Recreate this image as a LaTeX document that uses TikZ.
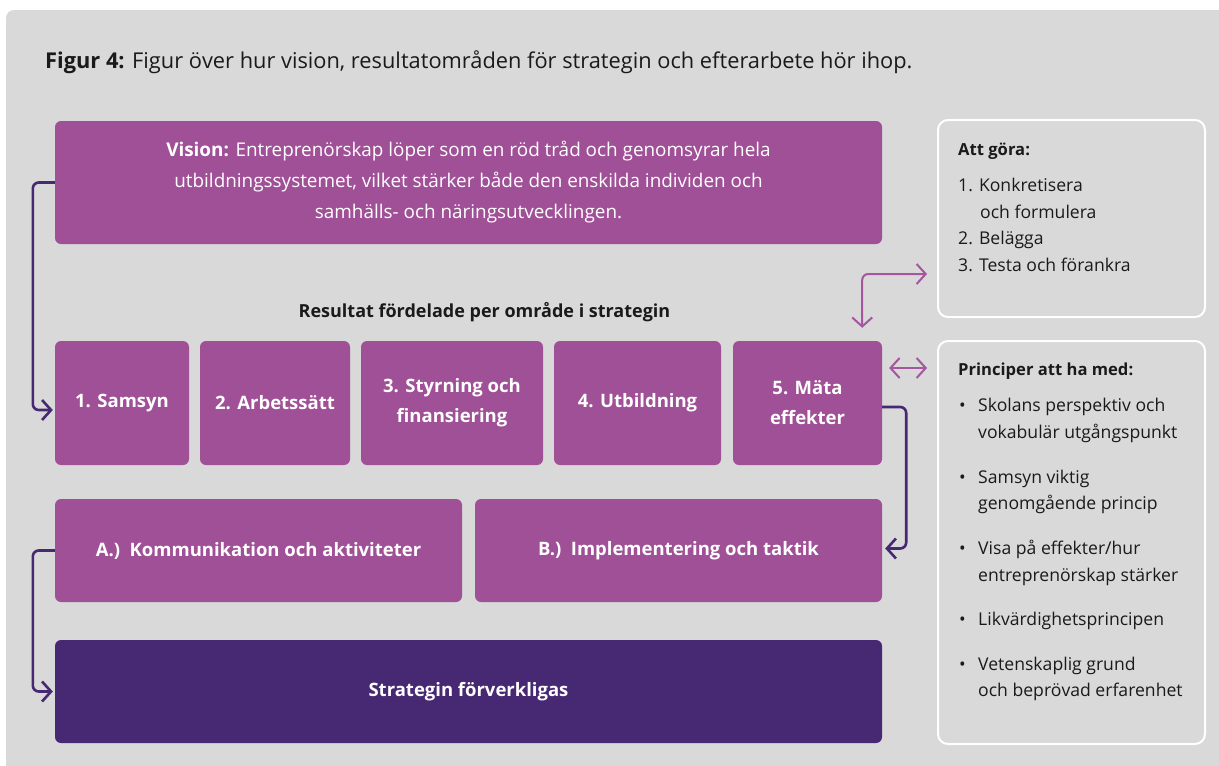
\documentclass[tikz,border=0pt]{standalone}
\usepackage{fontspec}
\setmainfont{Open Sans}
\usetikzlibrary{arrows.meta,calc}
\definecolor{bg}{HTML}{D9D9D9}
\definecolor{mauve}{HTML}{A05096}
\definecolor{deep}{HTML}{472873}
\definecolor{lilac}{HTML}{A4569E}
\definecolor{ink}{HTML}{1A1A1A}
\begin{document}
\begin{tikzpicture}[x=1pt,y=-1pt,
  box/.style={fill=mauve, rounded corners=6pt, text=white, inner sep=0pt, align=center,
    font=\fontsize{18.5}{30}\selectfont\bfseries},
  darkbox/.style={box, fill=deep},
  panel/.style={draw=white, line width=2pt, fill=bg, rounded corners=10pt, inner sep=0pt},
  txt/.style={anchor=base west, inner sep=0pt, text=ink, font=\fontsize{17.6}{20}\selectfont},
  txth/.style={txt, font=\fontsize{16.6}{20}\selectfont\bfseries},
  dconn/.style={draw=deep, line width=2.6pt, rounded corners=6pt, -{Straight Barb[length=9pt,width=20pt]}},
  lconn/.style={draw=lilac, line width=2pt, rounded corners=6pt,
    {Straight Barb[length=9pt,width=20pt]}-{Straight Barb[length=9pt,width=20pt]}}]
\useasboundingbox (0,0) rectangle (1219,766);
\begin{scope}
\clip (0,0) rectangle (1219,766);
\fill[white] (0,0) rectangle (1219,766);
\fill[bg, rounded corners=8pt] (6,10) rectangle (1240,790);
\end{scope}

% title
\node[anchor=base west, inner sep=0pt, text=ink, font=\fontsize{21.8}{24}\selectfont] (title) at (45,68)
  {\textbf{Figur 4:} Figur över hur vision, resultatområden för strategin och efterarbete hör ihop.};

% vision
\node[box, minimum width=827pt, minimum height=123pt, font=\fontsize{18.9}{31}\selectfont] (vision) at (468.5,182.5)
  {\textbf{Vision:} Entreprenörskap löper som en röd tråd och genomsyrar hela\\
   utbildningssystemet, vilket stärker både den enskilda individen och\\
   samhälls- och näringsutvecklingen.};

\node[anchor=center, inner sep=0pt, text=ink, font=\fontsize{18}{20}\selectfont\bfseries] (heading) at (484.5,312)
  {Resultat fördelade per område i strategin};

% row of areas
\node[box, minimum width=134pt, minimum height=124pt] (b1) at (122,403) {1. Samsyn};
\node[box, minimum width=150pt, minimum height=124pt] (b2) at (275,403) {2. Arbetssätt};
\node[box, minimum width=182pt, minimum height=124pt] (b3) at (452,403) {3. Styrning och\\finansiering};
\node[box, minimum width=167pt, minimum height=124pt] (b4) at (637.5,403) {4. Utbildning};
\node[box, minimum width=149pt, minimum height=124pt] (b5) at (807.5,403) {5. Mäta\\effekter};

\node[box, minimum width=407pt, minimum height=103pt] (A) at (258.5,550.5) {A.)\ \ Kommunikation och aktiviteter};
\node[box, minimum width=407pt, minimum height=103pt] (B) at (678.5,550.5) {B.)\ \ Implementering och taktik};

\node[darkbox, minimum width=827pt, minimum height=103pt] (S) at (468.5,691.5) {Strategin förverkligas};

% right panels
\node[panel, minimum width=267pt, minimum height=197pt] (todo) at (1071.5,218.5) {};
\node[panel, minimum width=267pt, minimum height=403pt] (prin) at (1071.5,542.5) {};

\node[txth] (todoh) at (958,155) {Att göra:};
\node[txt] (t1) at (958,191) {1. Konkretisera};
\node[txt] (t1b) at (980,218) {och formulera};
\node[txt] (t2) at (958,244) {2. Belägga};
\node[txt] (t3) at (958,271) {3. Testa och förankra};

\node[txth] (prinh) at (958,375) {Principer att ha med:};
\foreach \y/\n in {411/p1,483/p2,554/p3,625/p4,670/p5}
  \node[txt] (\n dot) at (959,\y) {•};
\node[txt] (p1a) at (978,411) {Skolans perspektiv och};
\node[txt] (p1b) at (978,438) {vokabulär utgångspunkt};
\node[txt] (p2a) at (978,483) {Samsyn viktig};
\node[txt] (p2b) at (978,509) {genomgående princip};
\node[txt] (p3a) at (978,554) {Visa på effekter/hur};
\node[txt] (p3b) at (978,581) {entreprenörskap stärker};
\node[txt] (p4a) at (978,625) {Likvärdighetsprincipen};
\node[txt] (p5a) at (978,670) {Vetenskaplig grund};
\node[txt] (p5b) at (978,696) {och beprövad erfarenhet};

% connectors
\draw[dconn] (vision.west) -- ++(-22,0) |- ($(b1.west)+(-2,7)$);
\draw[dconn] (A.west) -- ++(-22,0) |- ($(S.west)+(-2,0)$);
\draw[dconn] ($(b5.east)+(0,4)$) -- ++(24,0) |- ($(B.east)+(3,-2)$);
\draw[lconn] ($(todo.south west)+(-10,-44)$) -| ($(b5.north east)+(-20,-13)$);
\draw[lconn] ($(b5.east)+(7,-35)$) -- ($(b5.east -| prin.west)+(-10,-35)$);
\end{tikzpicture}
\end{document}
